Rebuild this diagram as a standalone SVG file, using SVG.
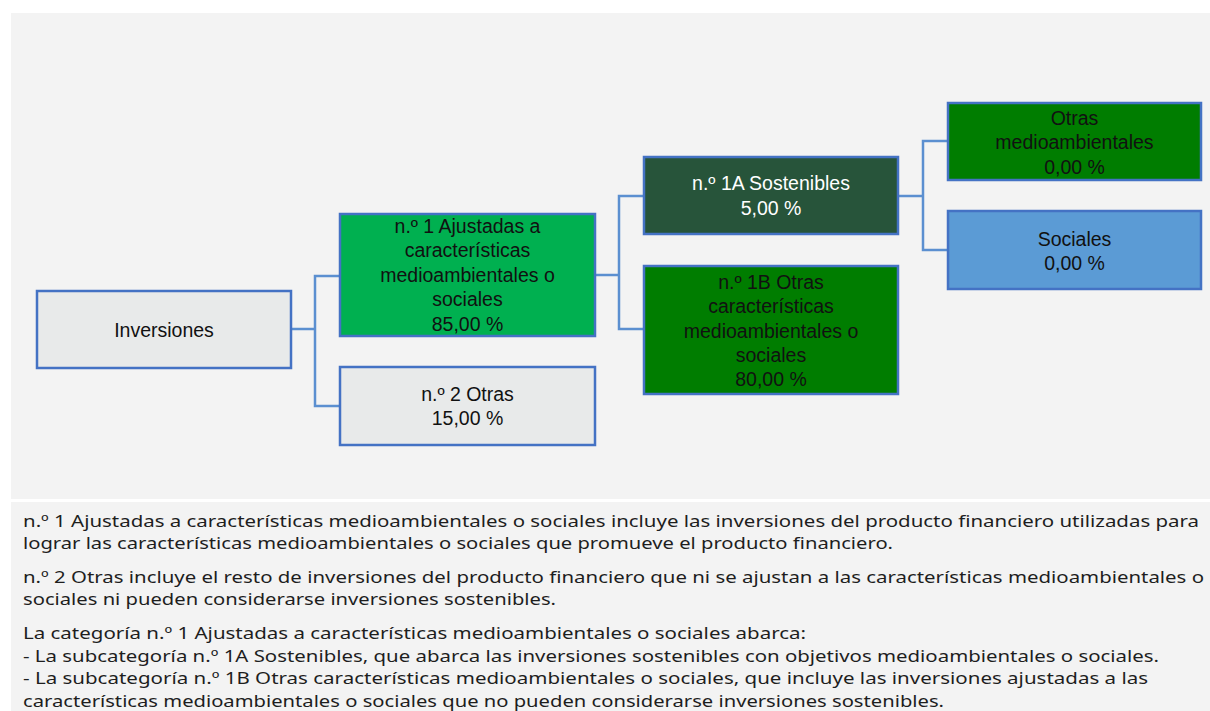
<svg xmlns="http://www.w3.org/2000/svg" width="1210" height="711" viewBox="0 0 1210 711">
<style>
.box{stroke:#4472c4;stroke-width:2.5}
.bt{font-family:"Liberation Sans",Arial,sans-serif;font-size:19.5px;fill:#111;text-anchor:middle}
.wt{fill:#fff}
.con{fill:none;stroke:#5b8fd0;stroke-width:2.5}
.ft{font-family:"Noto Sans","Liberation Sans",Arial,sans-serif;font-size:16px;fill:#1e1e1e}
</style>
<rect x="0" y="0" width="1210" height="711" fill="#ffffff"/>
<rect x="11" y="13" width="1199" height="486" fill="#f3f3f3"/>
<rect x="11" y="502" width="1199" height="209" fill="#f3f3f3"/>

<g id="connectors">
<polyline class="con" points="291,329 315,329"/>
<polyline class="con" points="340,276 315,276 315,406 340,406"/>
<polyline class="con" points="595,275 619,275"/>
<polyline class="con" points="644,196 619,196 619,329 644,329"/>
<polyline class="con" points="898,196 923,196"/>
<polyline class="con" points="948,141 923,141 923,250 948,250"/>
</g>

<g id="node-inversiones">
<rect class="box" x="37" y="291" width="254" height="77" fill="#e8eaea"/>
<text class="bt" x="164" y="337">Inversiones</text>
</g>

<g id="node-n1">
<rect class="box" x="340" y="214" width="255" height="122" fill="#00b050"/>
<text class="bt" x="467.5" y="232.5">n.º 1 Ajustadas a</text>
<text class="bt" x="467.5" y="257">características</text>
<text class="bt" x="467.5" y="281.5">medioambientales o</text>
<text class="bt" x="467.5" y="306">sociales</text>
<text class="bt" x="467.5" y="330.5">85,00 %</text>
</g>

<g id="node-n2">
<rect class="box" x="340" y="367" width="255" height="78" fill="#e8eaea"/>
<text class="bt" x="467.5" y="400.5">n.º 2 Otras</text>
<text class="bt" x="467.5" y="425">15,00 %</text>
</g>

<g id="node-n1a">
<rect class="box" x="644" y="157" width="254" height="77" fill="#27543a"/>
<text class="bt wt" x="771" y="190">n.º 1A Sostenibles</text>
<text class="bt wt" x="771" y="215">5,00 %</text>
</g>

<g id="node-n1b">
<rect class="box" x="644" y="266" width="254" height="128" fill="#007d00"/>
<text class="bt" x="771" y="288.5">n.º 1B Otras</text>
<text class="bt" x="771" y="313">características</text>
<text class="bt" x="771" y="337.5">medioambientales o</text>
<text class="bt" x="771" y="362">sociales</text>
<text class="bt" x="771" y="386">80,00 %</text>
</g>

<g id="node-otras-medio">
<rect class="box" x="948" y="103" width="253" height="77" fill="#007d00"/>
<text class="bt" x="1074.5" y="124.5">Otras</text>
<text class="bt" x="1074.5" y="149">medioambientales</text>
<text class="bt" x="1074.5" y="173.5">0,00 %</text>
</g>

<g id="node-sociales">
<rect class="box" x="948" y="211" width="253" height="78" fill="#5b9bd5"/>
<text class="bt" x="1074.5" y="245.5">Sociales</text>
<text class="bt" x="1074.5" y="269.5">0,00 %</text>
</g>

<g id="notes">
<text class="ft" x="23" y="527" textLength="1176" lengthAdjust="spacingAndGlyphs">n.º 1 Ajustadas a características medioambientales o sociales incluye las inversiones del producto financiero utilizadas para</text>
<text class="ft" x="23" y="549" textLength="870" lengthAdjust="spacingAndGlyphs">lograr las características medioambientales o sociales que promueve el producto financiero.</text>
<text class="ft" x="23" y="583" textLength="1181" lengthAdjust="spacingAndGlyphs">n.º 2 Otras incluye el resto de inversiones del producto financiero que ni se ajustan a las características medioambientales o</text>
<text class="ft" x="23" y="605" textLength="533" lengthAdjust="spacingAndGlyphs">sociales ni pueden considerarse inversiones sostenibles.</text>
<text class="ft" x="23" y="639" textLength="783" lengthAdjust="spacingAndGlyphs">La categoría n.º 1 Ajustadas a características medioambientales o sociales abarca:</text>
<text class="ft" x="23" y="661.5" textLength="1136" lengthAdjust="spacingAndGlyphs">- La subcategoría n.º 1A Sostenibles, que abarca las inversiones sostenibles con objetivos medioambientales o sociales.</text>
<text class="ft" x="23" y="684" textLength="1125" lengthAdjust="spacingAndGlyphs">- La subcategoría n.º 1B Otras características medioambientales o sociales, que incluye las inversiones ajustadas a las</text>
<text class="ft" x="23" y="706.5" textLength="921" lengthAdjust="spacingAndGlyphs">características medioambientales o sociales que no pueden considerarse inversiones sostenibles.</text>
</g>
</svg>
